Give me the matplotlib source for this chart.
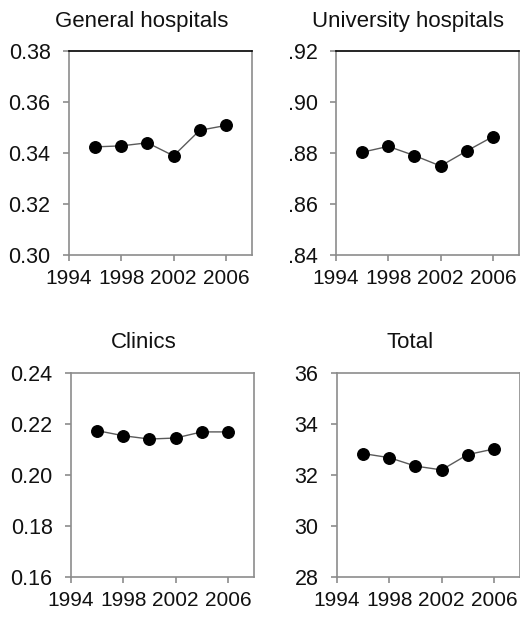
import matplotlib
matplotlib.use('Agg')
import matplotlib.pyplot as plt
from matplotlib.ticker import FuncFormatter

plt.rcParams['font.family'] = ['Liberation Sans', 'DejaVu Sans']

years = [1996, 1998, 2000, 2002, 2004, 2006]
general = [0.3424, 0.3428, 0.3440, 0.3389, 0.3489, 0.3508]
university = [0.8803, 0.8826, 0.8790, 0.8749, 0.8808, 0.8864]
clinics = [0.2174, 0.2154, 0.2141, 0.2145, 0.2169, 0.2169]
total = [32.84, 32.68, 32.35, 32.20, 32.80, 33.02]

titles = ['General hospitals', 'University hospitals', 'Clinics', 'Total']
year_ticks = [1994, 1998, 2002, 2006]

gen_ticks = [0.30, 0.32, 0.34, 0.36, 0.38]
uni_ticks = [0.84, 0.86, 0.88, 0.90, 0.92]
cli_ticks = [0.16, 0.18, 0.20, 0.22, 0.24]
tot_ticks = [28, 30, 32, 34, 36]

W, H = 520, 620
fig = plt.figure(figsize=(W / 100, H / 100), dpi=100)

# panel boxes in pixels: left, top, right, bottom
boxes = [(69, 51, 252, 255), (336, 51, 519, 255),
         (71, 373, 254, 577), (337, 373, 520, 577)]
title_pos = [(142, 21), (408, 21), (144, 343), (410, 343)]
series = [general, university, clinics, total]
yticks = [gen_ticks, uni_ticks, cli_ticks, tot_ticks]
fmts = [lambda v, p: '%.2f' % v,
        lambda v, p: ('%.2f' % v)[1:],
        lambda v, p: '%.2f' % v,
        lambda v, p: '%d' % v]

gray = '#8c8c8c'
for i in range(4):
    l, t, r, b = boxes[i]
    ax = fig.add_axes([l / W, 1 - b / H, (r - l) / W, (b - t) / H])
    ax.plot(years, series[i], color='#5a5a5a', lw=1.0, marker='o',
            markersize=8.3, markerfacecolor='black', markeredgecolor='black')
    ax.set_xlim(1994, 2008)
    ax.set_ylim(yticks[i][0], yticks[i][-1])
    ax.set_xticks(year_ticks)
    ax.set_yticks(yticks[i])
    ax.yaxis.set_major_formatter(FuncFormatter(fmts[i]))
    for s in ax.spines.values():
        s.set_color(gray)
        s.set_linewidth(1.2)
    if i < 2:
        ax.spines['top'].set_color('black')
    ax.tick_params(direction='out', length=4.3, width=1.2, color=gray,
                   labelcolor='#111111')
    ax.tick_params(axis='x', labelsize=15, pad=6)
    ax.tick_params(axis='y', labelsize=15.5, pad=9)
    x, y = title_pos[i]
    fig.text(x / W, 1 - y / H, titles[i], ha='center', va='center',
             fontsize=16, color='#111111')

fig.savefig('out.png', dpi=100)
